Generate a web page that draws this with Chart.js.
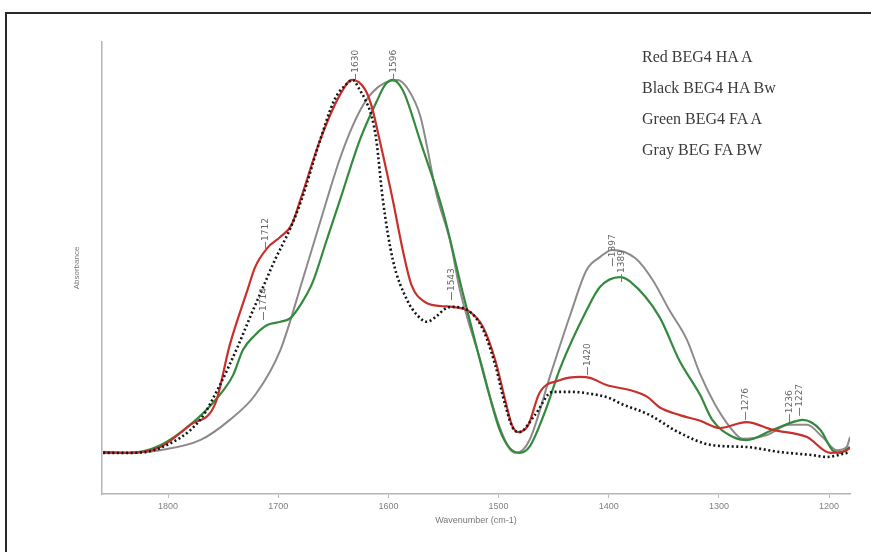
<!DOCTYPE html>
<html>
<head>
<meta charset="utf-8">
<script src="https://cdn.jsdelivr.net/npm/chart.js@4/dist/chart.umd.min.js"></script>
<style>
    body { margin: 0; background: #fff; }
    #frame { position: absolute; left: 5px; top: 12px; width: 900px; height: 560px; border: 2px solid #2a2a2a; }
    #chart { position: absolute; left: 0; top: 0; }
    .key { position: absolute; left: 642px; font-family: "Liberation Serif", serif; font-size: 16px; color: #3a3a3a; line-height: 20px; }
</style>
</head>
<body>
<div id="frame"></div>
<canvas id="chart" width="871" height="552"></canvas>
<div id="keys"></div>
<script>
// wavenumbers (cm-1) and absorbance
var redX = [1859, 1835, 1807, 1780, 1757, 1744, 1728, 1721, 1710, 1698, 1688, 1680, 1662, 1644, 1633, 1621, 1615, 1608, 1596, 1587, 1579, 1567, 1553, 1542, 1526, 1514, 1503, 1494, 1488, 1482, 1473, 1463, 1444, 1426, 1417, 1402, 1381, 1365, 1354, 1336, 1317, 1299, 1275, 1251, 1220, 1199, 1184, 1181];
var redY = [0.093, 0.091, 0.104, 0.153, 0.201, 0.330, 0.451, 0.502, 0.544, 0.569, 0.595, 0.650, 0.783, 0.883, 0.916, 0.894, 0.856, 0.783, 0.650, 0.540, 0.462, 0.425, 0.416, 0.414, 0.403, 0.369, 0.296, 0.208, 0.153, 0.137, 0.153, 0.223, 0.252, 0.259, 0.257, 0.241, 0.230, 0.215, 0.192, 0.175, 0.162, 0.146, 0.159, 0.142, 0.126, 0.091, 0.097, 0.102];

var blackX = [1859, 1835, 1807, 1771, 1753, 1737, 1726, 1715, 1703, 1689, 1679, 1662, 1649, 1639, 1632, 1627, 1621, 1615, 1611, 1605, 1596, 1583, 1574, 1565, 1556, 1549, 1542, 1526, 1514, 1503, 1494, 1487, 1481, 1467, 1451, 1434, 1420, 1399, 1390, 1363, 1337, 1306, 1275, 1245, 1215, 1202, 1184, 1181];
var blackY = [0.091, 0.091, 0.102, 0.164, 0.241, 0.325, 0.389, 0.451, 0.518, 0.588, 0.650, 0.783, 0.872, 0.905, 0.916, 0.898, 0.872, 0.834, 0.783, 0.650, 0.518, 0.429, 0.396, 0.381, 0.394, 0.409, 0.414, 0.403, 0.363, 0.285, 0.197, 0.146, 0.137, 0.175, 0.226, 0.226, 0.223, 0.212, 0.201, 0.175, 0.137, 0.108, 0.104, 0.093, 0.086, 0.082, 0.091, 0.093];

var greenX = [1859, 1835, 1807, 1780, 1757, 1741, 1732, 1721, 1710, 1698, 1689, 1680, 1669, 1656, 1644, 1626, 1610, 1603, 1596, 1590, 1585, 1571, 1551, 1532, 1520, 1508, 1499, 1490, 1481, 1472, 1458, 1444, 1420, 1408, 1390, 1381, 1354, 1336, 1317, 1306, 1287, 1275, 1251, 1233, 1224, 1208, 1197, 1190, 1181];
var greenY = [0.091, 0.091, 0.108, 0.153, 0.208, 0.263, 0.319, 0.352, 0.374, 0.381, 0.389, 0.418, 0.467, 0.562, 0.650, 0.783, 0.872, 0.905, 0.916, 0.905, 0.883, 0.780, 0.630, 0.440, 0.325, 0.215, 0.142, 0.102, 0.091, 0.104, 0.181, 0.279, 0.407, 0.458, 0.480, 0.471, 0.392, 0.296, 0.219, 0.164, 0.126, 0.119, 0.142, 0.159, 0.164, 0.142, 0.097, 0.091, 0.104];

var grayX = [1859, 1835, 1807, 1771, 1744, 1721, 1698, 1678, 1656, 1645, 1635, 1625, 1614, 1603, 1592, 1582, 1571, 1556, 1544, 1535, 1526, 1517, 1506, 1497, 1490, 1484, 1472, 1453, 1435, 1420, 1408, 1397, 1376, 1360, 1345, 1329, 1317, 1304, 1290, 1278, 1257, 1236, 1220, 1206, 1193, 1184, 1181];
var grayY = [0.091, 0.091, 0.097, 0.119, 0.164, 0.219, 0.319, 0.473, 0.650, 0.735, 0.800, 0.852, 0.890, 0.910, 0.916, 0.895, 0.835, 0.660, 0.560, 0.450, 0.370, 0.300, 0.200, 0.135, 0.100, 0.091, 0.119, 0.263, 0.396, 0.496, 0.524, 0.540, 0.522, 0.473, 0.407, 0.341, 0.265, 0.200, 0.148, 0.122, 0.130, 0.153, 0.153, 0.126, 0.097, 0.104, 0.126];

var xTicks = [1800, 1700, 1600, 1500, 1400, 1300, 1200];

// peak labels: wavenumber and absorbance at the foot of the leader
var peakLabels = ['1630', '1596', '1712', '1714', '1543', '1397', '1389', '1420', '1276', '1236', '1227'];
var peakX = [1630, 1596, 1712, 1714, 1543, 1397, 1389, 1420, 1276, 1236, 1227];
var peakY = [0.912, 0.912, 0.540, 0.385, 0.429, 0.504, 0.469, 0.263, 0.164, 0.159, 0.173];

var legendLines = ['Red BEG4 HA A', 'Black BEG4 HA Bw', 'Green BEG4 FA A', 'Gray BEG FA BW'];

function toPoints(xs, ys) {
    return xs.map(function (x, i) {
        return {x: x, y: ys[i]};
    });
}

var keys = document.getElementById('keys');
legendLines.forEach(function (t, i) {
    var d = document.createElement('div');
    d.className = 'key';
    d.style.top = (47 + i * 31) + 'px';
    d.textContent = t;
    keys.appendChild(d);
});

var peakPlugin = {
    id: 'peaks',
    afterDatasetsDraw: function (chart) {
        var ctx = chart.ctx, xs = chart.scales.x, ys = chart.scales.y;
        ctx.save();
        ctx.strokeStyle = '#777';
        ctx.fillStyle = '#666';
        ctx.lineWidth = 1;
        ctx.font = '9px "DejaVu Sans", sans-serif';
        ctx.textAlign = 'left';
        ctx.textBaseline = 'middle';
        peakLabels.forEach(function (t, i) {
            var px = Math.round(xs.getPixelForValue(peakX[i])) + 0.5;
            var py = ys.getPixelForValue(peakY[i]);
            ctx.beginPath();
            ctx.moveTo(px, py);
            ctx.lineTo(px, py - 8);
            ctx.stroke();
            ctx.save();
            ctx.translate(px, py - 9);
            ctx.rotate(-Math.PI / 2);
            ctx.fillText(t, 0, 0);
            ctx.restore();
        });
        ctx.restore();
    }
};

var ctx = document.getElementById('chart').getContext('2d');
var myChart = new Chart(ctx, {
    type: 'line',
    data: {
        datasets: [
            {
                label: 'Black BEG4 HA Bw',
                data: toPoints(blackX, blackY),
                borderColor: '#151515',
                borderWidth: 2.6,
                borderDash: [2, 2.6],
                fill: false,
                pointRadius: 0,
                cubicInterpolationMode: 'monotone'
            },
            {
                label: 'Red BEG4 HA A',
                data: toPoints(redX, redY),
                borderColor: '#c8302c',
                borderWidth: 2.2,
                fill: false,
                pointRadius: 0,
                cubicInterpolationMode: 'monotone'
            },
            {
                label: 'Green BEG4 FA A',
                data: toPoints(greenX, greenY),
                borderColor: '#338a3e',
                borderWidth: 2.2,
                fill: false,
                pointRadius: 0,
                cubicInterpolationMode: 'monotone'
            },
            {
                label: 'Gray BEG FA BW',
                data: toPoints(grayX, grayY),
                borderColor: '#8e8a8c',
                borderWidth: 2,
                fill: false,
                pointRadius: 0,
                cubicInterpolationMode: 'monotone'
            }
        ]
    },
    options: {
        responsive: false,
        animation: false,
        devicePixelRatio: 1,
        layout: {padding: {left: 72, top: 42, right: 21, bottom: 26}},
        plugins: {
            legend: {display: false},
            tooltip: {enabled: false}
        },
        scales: {
            x: {
                type: 'linear',
                reverse: true,
                min: 1181,
                max: 1860,
                afterBuildTicks: function (axis) {
                    axis.ticks = xTicks.map(function (v) { return {value: v}; });
                },
                afterFit: function (axis) { axis.height = 32; },
                grid: {display: true, drawOnChartArea: false, tickLength: 4, color: '#bbb'},
                border: {color: '#b5b5b5', width: 1.5},
                ticks: {
                    color: '#808080',
                    font: {size: 9},
                    padding: 3,
                    maxRotation: 0,
                    callback: function (v) { return String(v); }
                },
                title: {display: true, text: 'Wavenumber (cm-1)', color: '#777', font: {size: 9}, padding: 0}
            },
            y: {
                min: 0,
                max: 1,
                afterFit: function (axis) { axis.width = 30; },
                grid: {display: false},
                border: {color: '#b5b5b5', width: 1.5},
                ticks: {display: false},
                title: {display: true, text: 'Absorbance', color: '#777', font: {size: 8}, padding: 0}
            }
        }
    },
    plugins: [peakPlugin]
});
</script>
</body>
</html>
